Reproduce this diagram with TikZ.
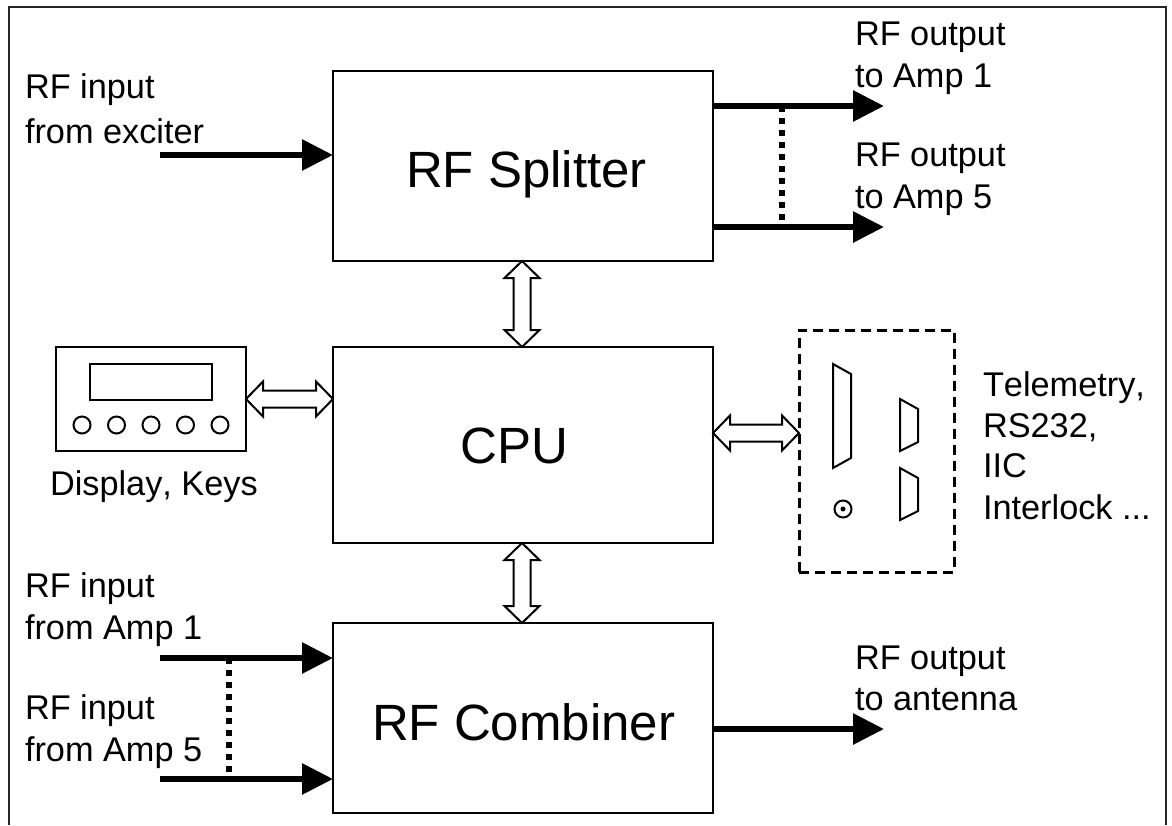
\documentclass[tikz,border=0pt]{standalone}
\usepackage{fontspec}
\setmainfont[Kerning=Off]{Liberation Sans}
\usetikzlibrary{arrows.meta,calc}
\tikzset{
  x=1pt,y=-1pt,
  blockbox/.style={draw=black,line width=2pt,minimum width=380pt,outer sep=0pt,inner sep=0pt},
  title/.style={anchor=base west,inner sep=0pt,outer sep=0pt,font=\fontsize{51}{60}\selectfont},
  plainbox/.style={draw=black,line width=2pt,outer sep=0pt,inner sep=0pt},
  lbl/.style={anchor=base west,inner sep=0pt,outer sep=0pt,font=\fontsize{34.3}{40}\selectfont},
  rfline/.style={line width=6pt,-{Triangle[length=31pt,width=30pt]}},
  link/.style={line width=6pt,dash pattern=on 6pt off 6pt},
  openarrow/.style={draw=black,line width=2pt,fill=white,line join=miter},
  conn/.style={draw=black,line width=2pt,line join=miter},
  knob/.style={circle,draw=black,line width=2pt,minimum size=17pt,inner sep=0pt,outer sep=0pt}
}
\newcommand{\dblH}[2]{%
  \path[openarrow] let \p1=(#1),\p2=(#2) in
   (\x1,\y1) -- (\x1+17pt,\y1+17.5pt) -- (\x1+17pt,\y1+8.5pt) -- (\x2-17pt,\y1+8.5pt) -- (\x2-17pt,\y1+17.5pt) -- (\x2,\y1)
   -- (\x2-17pt,\y1-17.5pt) -- (\x2-17pt,\y1-8.5pt) -- (\x1+17pt,\y1-8.5pt) -- (\x1+17pt,\y1-17.5pt) -- cycle;}
\newcommand{\dblV}[2]{%
  \path[openarrow] let \p1=(#1),\p2=(#2) in
   (\x1,\y1) -- (\x1+17.5pt,\y1-17pt) -- (\x1+8.5pt,\y1-17pt) -- (\x1+8.5pt,\y2+17pt) -- (\x1+17.5pt,\y2+17pt) -- (\x1,\y2)
   -- (\x1-17.5pt,\y2+17pt) -- (\x1-8.5pt,\y2+17pt) -- (\x1-8.5pt,\y1-17pt) -- (\x1-17.5pt,\y1-17pt) -- cycle;}
\begin{document}
\begin{tikzpicture}
\useasboundingbox (0,0) rectangle (1172,825);
% frame, open at the bottom
\draw[line width=2pt,draw=black!85] (9,825) -- (9,7) -- (1166,7) -- (1166,825);

% main blocks
\node[blockbox,minimum height=190pt] (split) at (523,166) {};
\node[blockbox,minimum height=196pt] (cpu) at (523,445) {};
\node[blockbox,minimum height=190pt] (comb) at (523,718) {};
\node[title] (splitT) at (406,187) {RF Splitter};
\node[title] (cpuT) at (460.5,463) {CPU};
\node[title] (combT) at (372,740) {RF Combiner};

% display panel
\node[plainbox,minimum width=190pt,minimum height=104pt] (disp) at (151,399) {};
\node[plainbox,minimum width=122pt,minimum height=36pt] (screen) at (151,382) {};
\foreach \i/\xx in {1/82,2/116.5,3/151,4/185.5,5/220}
  \node[knob] (k\i) at (\xx,425) {};

% interface panel
\node[draw=black,line width=3pt,dash pattern=on 10pt off 6pt,minimum width=155pt,minimum height=242pt,outer sep=0pt,inner sep=0pt] (panel) at (876.5,451) {};
\draw[conn] (833,364) -- (851,374) -- (851,458) -- (833,468) -- cycle;
\draw[conn] (900,399) -- (918,409) -- (918,442) -- (900,451) -- cycle;
\draw[conn] (900,468) -- (918,478) -- (918,511) -- (900,520) -- cycle;
\node[knob] (bnc) at (843,509) {};
\fill (bnc.center) circle[radius=2.5];

% coordinates for free ends
\coordinate (ex) at (160,155);
\coordinate (exEnd) at (split.west |- ex);
\coordinate (o1s) at (split.east |- 0,106);
\coordinate (o1e) at (884,106);
\coordinate (o5s) at (split.east |- 0,227);
\coordinate (o5e) at (884,227);
\coordinate (d1) at (782,106);
\coordinate (d5) at (782,227);
\coordinate (i1s) at (160,658);
\coordinate (i1e) at (comb.west |- i1s);
\coordinate (i5s) at (160,779);
\coordinate (i5e) at (comb.west |- i5s);
\coordinate (d6) at (229,658);
\coordinate (d7) at (229,779);
\coordinate (os) at (comb.east |- 0,729);
\coordinate (oe) at (884,729);

% RF lines
\draw[rfline] (ex) -- (exEnd);
\draw[rfline] (o1s) -- (o1e);
\draw[rfline] (o5s) -- (o5e);
\draw[rfline] (i1s) -- (i1e);
\draw[rfline] (i5s) -- (i5e);
\draw[rfline] (os) -- (oe);
\draw[link] (d1) -- (d5);
\draw[link] (d6) -- (d7);

% bidirectional buses
\coordinate (v1a) at (522,347);
\coordinate (v2a) at (522,623);
\dblV{split.south -| v1a}{cpu.north -| v1a}
\dblV{cpu.south -| v2a}{comb.north -| v2a}
\coordinate (h1) at (0,399);
\coordinate (h2) at (0,433);
\dblH{disp.east |- h1}{cpu.west |- h1}
\dblH{cpu.east |- h2}{panel.west |- h2}

% labels
\node[lbl] (t1) at (25,98) {RF input};
\node[lbl] (t2) at (25,143) {from exciter};
\node[lbl] (t3) at (855,45) {RF output};
\node[lbl] (t4) at (855,87) {to Amp 1};
\node[lbl] (t5) at (855,166) {RF output};
\node[lbl] (t6) at (855,208) {to Amp 5};
\node[lbl] (t7) at (50,495) {Display, Keys};
\node[lbl] (t8) at (983,396) {Telemetry,};
\node[lbl] (t9) at (983,437) {RS232,};
\node[lbl] (t10) at (983,477) {IIC};
\node[lbl] (t11) at (983,519) {Interlock ...};
\node[lbl] (t12) at (25,597) {RF input};
\node[lbl] (t13) at (25,639) {from Amp 1};
\node[lbl] (t14) at (25,719) {RF input};
\node[lbl] (t15) at (25,761) {from Amp 5};
\node[lbl] (t16) at (855,669) {RF output};
\node[lbl] (t17) at (855,710) {to antenna};
\end{tikzpicture}
\end{document}
